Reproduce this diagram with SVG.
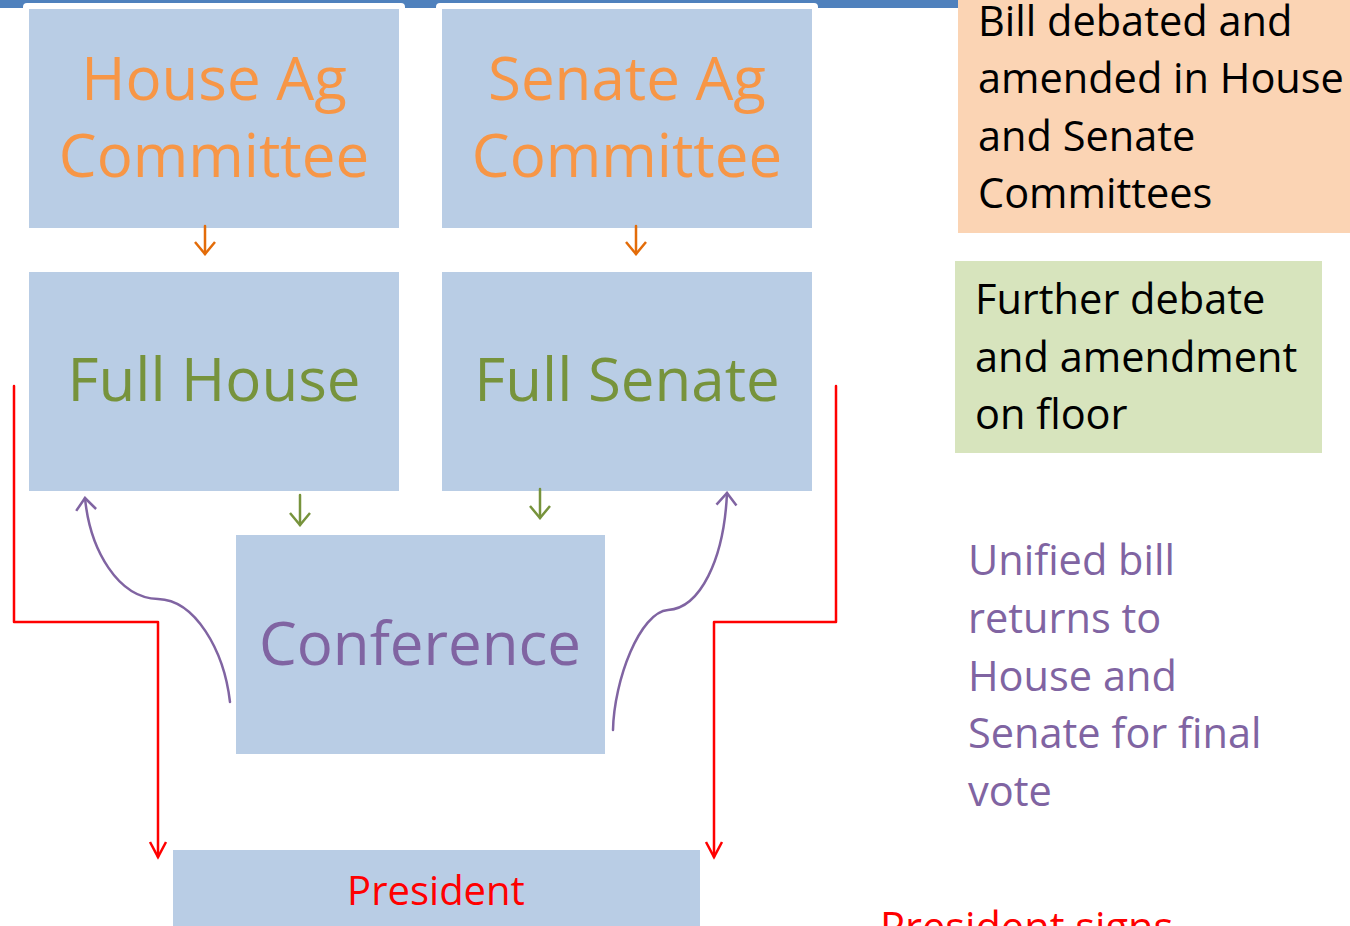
<svg xmlns="http://www.w3.org/2000/svg" width="1350" height="926" viewBox="0 0 1350 926">
<defs>
<style>
.box{fill:#B9CDE5}
.big{font-family:"Open Sans","Liberation Sans",sans-serif;font-size:60px;text-anchor:middle}
.side{font-family:"Open Sans","Liberation Sans",sans-serif;font-size:41.5px}
.ln{fill:none;stroke-width:2.5;stroke-linecap:round;stroke-linejoin:round}
</style>
<marker id="ao" markerUnits="userSpaceOnUse" markerWidth="30" markerHeight="30" refX="15" refY="15" orient="auto" viewBox="0 0 30 30"><path d="M3,5 L15,15 L3,25" fill="none" stroke="#E36C09" stroke-width="2.5"/></marker>
<marker id="ag" markerUnits="userSpaceOnUse" markerWidth="30" markerHeight="30" refX="15" refY="15" orient="auto" viewBox="0 0 30 30"><path d="M3,5 L15,15 L3,25" fill="none" stroke="#77933C" stroke-width="2.5"/></marker>
<marker id="ap" markerUnits="userSpaceOnUse" markerWidth="30" markerHeight="30" refX="15" refY="15" orient="auto" viewBox="0 0 30 30"><path d="M3,5 L15,15 L3,25" fill="none" stroke="#8064A2" stroke-width="2.5"/></marker>
<marker id="ar" markerUnits="userSpaceOnUse" markerWidth="34" markerHeight="34" refX="17" refY="17" orient="auto" viewBox="0 0 34 34"><path d="M2,9 L17,17 L2,25" fill="none" stroke="#FF0000" stroke-width="2.5"/></marker>
</defs>
<rect width="1350" height="926" fill="#FFFFFF"/>
<rect x="0" y="0" width="958" height="8" fill="#4F81BD"/>
<rect x="23" y="3" width="382" height="60" rx="4" fill="#FFFFFF"/>
<rect x="436" y="3" width="382" height="60" rx="4" fill="#FFFFFF"/>

<g id="house-ag"><rect class="box" x="29" y="9" width="370" height="219"/><text class="big" x="214" y="100" fill="#F79646">House Ag</text><text class="big" x="214" y="177" fill="#F79646">Committee</text></g>
<g id="senate-ag"><rect class="box" x="442" y="9" width="370" height="219"/><text class="big" x="627" y="100" fill="#F79646">Senate Ag</text><text class="big" x="627" y="177" fill="#F79646">Committee</text></g>
<g id="full-house"><rect class="box" x="29" y="272" width="370" height="219"/><text class="big" x="214" y="401" fill="#77933C">Full House</text></g>
<g id="full-senate"><rect class="box" x="442" y="272" width="370" height="219"/><text class="big" x="627" y="401" fill="#77933C">Full Senate</text></g>
<g id="conference"><rect class="box" x="236" y="535" width="369" height="219"/><text class="big" x="420" y="665" fill="#8064A2">Conference</text></g>
<g id="president"><rect class="box" x="173" y="850" width="527" height="80"/><text class="big" x="436" y="905" fill="#FF0000" style="font-size:40px">President</text></g>

<g id="note-committees"><rect x="958" y="0" width="392" height="233" fill="#FBD4B4"/><text class="side" fill="#000000"><tspan x="978" y="36">Bill debated and</tspan><tspan x="978" y="93">amended in House</tspan><tspan x="978" y="151">and Senate</tspan><tspan x="978" y="208">Committees</tspan></text></g>
<g id="note-floor"><rect x="955" y="261" width="367" height="192" fill="#D7E4BD"/><text class="side" fill="#000000"><tspan x="975" y="314">Further debate</tspan><tspan x="975" y="372">and amendment</tspan><tspan x="975" y="429">on floor</tspan></text></g>
<g id="note-unified"><text class="side" fill="#8064A2"><tspan x="968" y="575">Unified bill</tspan><tspan x="968" y="633">returns to</tspan><tspan x="968" y="691">House and</tspan><tspan x="968" y="748">Senate for final</tspan><tspan x="968" y="806">vote</tspan></text></g>
<g id="note-president"><text class="side" fill="#FF0000"><tspan x="880" y="942">President signs</tspan></text></g>

<g id="connectors">
<path class="ln" d="M205,226 L205,254" stroke="#E36C09" marker-end="url(#ao)"/>
<path class="ln" d="M636,226 L636,254" stroke="#E36C09" marker-end="url(#ao)"/>
<path class="ln" d="M300,495 L300,525" stroke="#77933C" marker-end="url(#ag)"/>
<path class="ln" d="M540,489 L540,518" stroke="#77933C" marker-end="url(#ag)"/>
<path class="ln" d="M230,702 C224,650 195,600 158,599 C118,598 90,550 85,498" stroke="#8064A2" marker-end="url(#ap)"/>
<path class="ln" d="M613,730 C614,680 640,612 668,610 C700,608 724,560 727,493" stroke="#8064A2" marker-end="url(#ap)"/>
<path class="ln" d="M14,386 L14,622 L158,622 L158,857" stroke="#FF0000" stroke-linecap="butt" stroke-linejoin="miter" marker-end="url(#ar)"/>
<path class="ln" d="M836,386 L836,622 L714,622 L714,857" stroke="#FF0000" stroke-linecap="butt" stroke-linejoin="miter" marker-end="url(#ar)"/>
</g>
</svg>
